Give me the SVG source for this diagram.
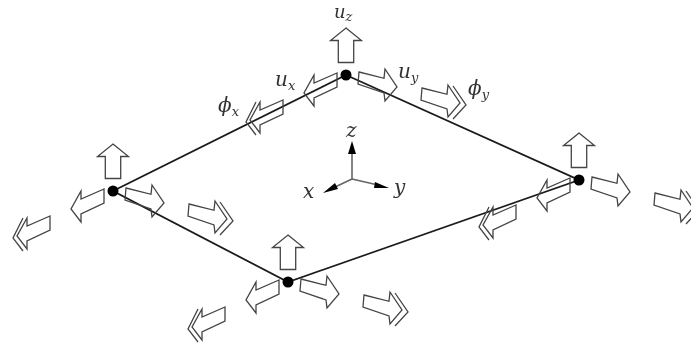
<svg xmlns="http://www.w3.org/2000/svg" width="691" height="345" viewBox="0 0 691 345">
<style>
.a{fill:none;stroke:#444;stroke-width:1.3;stroke-linejoin:miter}
.e{fill:none;stroke:#1a1a1a;stroke-width:1.8}
.d{fill:#000}
.ax{fill:none;stroke:#666;stroke-width:1.6}
.h{fill:#000}
text{font-family:"DejaVu Serif",serif;font-style:italic;fill:#333;font-size:20px}
tspan{font-size:13px}
</style>
<defs>
<filter id="b" x="-2%" y="-2%" width="104%" height="104%"><feGaussianBlur stdDeviation="0.55"/></filter>
<g id="up"><polygon class="a" points="0,-47 15.5,-34.5 7.7,-34.5 7.7,-12.5 -7.7,-12.5 -7.7,-34.5 -15.5,-34.5"/></g>
<g id="ay"><polygon class="a" points="13,-3 38,3.3 39,-6 51,12 39,26 38,18 12,9"/></g>
<g id="ax"><polygon class="a" points="-9,-2 -32,8 -32,0 -42,18 -32,31 -32,23 -9,12"/></g>
<g id="py"><use href="#ay" x="63" y="16"/><polyline class="a" points="107,11 120,30 107,44"/></g>
<g id="px"><use href="#ax" x="-54" y="27"/><polyline class="a" points="-90,27 -100,47 -90,60"/></g>
</defs>
<g filter="url(#b)">
<g id="connectors">
<path class="e" d="M346,75L113,191L288,282L579,180L346,75"/>
</g>
<g id="node-top" transform="translate(346,75)">
<use href="#up"/><use href="#ay"/><use href="#ax"/><use href="#py"/><use href="#px"/>
<circle class="d" r="5.5"/>
</g>
<g id="node-left" transform="translate(113,191)">
<use href="#up"/><use href="#ay"/><use href="#ax"/><use href="#py"/><use href="#px"/>
<circle class="d" r="5.5"/>
</g>
<g id="node-bottom" transform="translate(288,282)">
<use href="#up"/><use href="#ay"/><use href="#ax"/><use href="#py"/><use href="#px"/>
<circle class="d" r="5.5"/>
</g>
<g id="node-right" transform="translate(579,180)">
<use href="#up"/><use href="#ay"/><use href="#ax"/><use href="#py"/><use href="#px"/>
<circle class="d" r="5.5"/>
</g>
<g id="axes">
<path class="ax" d="M352,179V150M352,179L333,188M352,179L378,185"/>
<polygon class="h" points="352,141 356,154 348,154"/>
<polygon class="h" points="323,193 335,183 338,189"/>
<polygon class="h" points="389,188 375,182 374,188"/>
<text x="346" y="137">z</text>
<text x="303" y="198">x</text>
<text x="394" y="194">y</text>
</g>
<g id="labels">
<text x="334" y="17.5" style="font-size:18px">u<tspan dy="3">z</tspan></text>
<text x="275" y="86">u<tspan dy="4">x</tspan></text>
<text x="398" y="78">u<tspan dy="4">y</tspan></text>
<text x="218" y="112">ϕ<tspan dy="4">x</tspan></text>
<text x="468" y="95">ϕ<tspan dy="4">y</tspan></text>
</g>
</g>
</svg>
